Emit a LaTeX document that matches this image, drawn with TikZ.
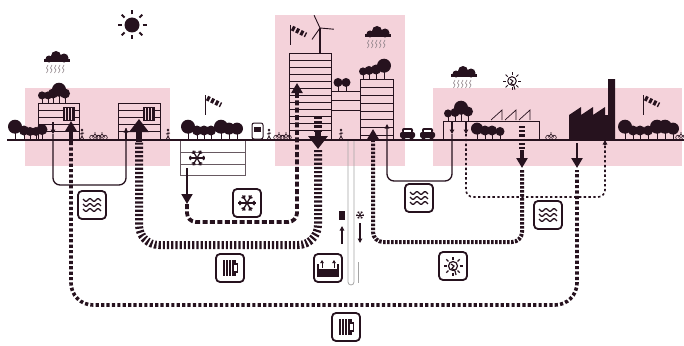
\documentclass[tikz,border=0pt]{standalone}
\usepackage{tikz}
\usetikzlibrary{arrows.meta}

\definecolor{ink}{RGB}{38,18,30}
\definecolor{blush}{RGB}{244,210,218}
\definecolor{probegray}{RGB}{165,165,165}

% tree: x, ground y, canopy radius
\newcommand{\treeat}[3]{%
  \draw[ink,line width=0.9pt] (#1,#2) -- (#1,{#2-1.8*#3});
  \fill[ink] (#1,{#2-1.9*#3}) circle (#3pt);}

% cloud with rain
\newcommand{\raincloud}[2]{%
  \begin{scope}[shift={(#1,#2)}]
    \fill[ink] (-13,2) rectangle (13,5);
    \fill[ink] (-8,2) circle (3.5pt) (-1,-1) circle (5pt) (7,1) circle (4.5pt);
    \foreach \i in {-9,-5,...,9}
      \draw[ink!55,line width=0.6pt] (\i,8) -- ++(-1.5,3) -- ++(1.5,2) -- ++(-1.5,3);
  \end{scope}}

% wind sock on a pole
\newcommand{\windsock}[2]{%
  \draw[ink,line width=0.8pt] (#1,#2) -- (#1,{#2+20});
  \draw[ink,line width=5pt,dash pattern=on 3pt off 1.8pt] ({#1+2},{#2+3}) -- ({#1+16},{#2+10});}

\newcommand{\walker}[2]{%
  \fill[ink] (#1,{#2-10}) circle (1.3pt);
  \draw[ink,line width=0.8pt] (#1,{#2-8.5}) -- (#1,{#2-4}) -- ({#1-2},#2)
    (#1,{#2-4}) -- ({#1+2},#2) ({#1-2},{#2-6}) -- ({#1+2},{#2-7});}

\newcommand{\bike}[2]{%
  \draw[ink,line width=0.6pt] ({#1-3},{#2-2.5}) circle (2.3pt) ({#1+3},{#2-2.5}) circle (2.3pt)
    ({#1-3},{#2-2.5}) -- (#1,{#2-6}) -- ({#1+3},{#2-2.5}) (#1,{#2-6}) -- (#1,{#2-8});}

\newcommand{\car}[2]{%
  \fill[ink,rounded corners=2pt] (#1,{#2-2}) rectangle ({#1+15},{#2-8});
  \fill[ink,rounded corners=2pt] ({#1+2},{#2-7}) rectangle ({#1+13},{#2-12});
  \fill[white] ({#1+4},{#2-8}) rectangle ({#1+11},{#2-10.5});
  \fill[ink] ({#1+3.5},{#2-1.5}) circle (1.8pt) ({#1+11.5},{#2-1.5}) circle (1.8pt);}

% small radiator on a facade: top-left corner
\newcommand{\wallrad}[2]{%
  \fill[ink] (#1,#2) rectangle ({#1+12},{#2+14});
  \foreach \i in {2.5,5.5,8.5}
    \draw[blush,line width=0.7pt] ({#1+\i},{#2+1}) -- ({#1+\i},{#2+13});}

% icon contents, drawn round a node centre
\newcommand{\wavesicon}[1]{%
  \begin{scope}[shift={(#1.center)}]
    \foreach \dy in {-5,0,5}
      \draw[ink,line width=1.3pt] plot[domain=-9:9,samples=25,variable=\t] (\t,{\dy+1.3*sin(\t*45)});
  \end{scope}}

\newcommand{\flake}[3]{% centre, scale, line width
  \begin{scope}[shift={(#1)},scale=#2]
    \foreach \a in {0,60,...,300} {
      \draw[ink,line width=#3] (0,0) -- (\a:8);
      \draw[ink,line width=#3] (\a:5) -- ++(\a+45:2.6) (\a:5) -- ++(\a-45:2.6);}
  \end{scope}}

\newcommand{\radicon}[1]{%
  \begin{scope}[shift={(#1.center)}]
    \foreach \i in {0,...,3} \fill[ink] ({-7+\i*3},-8) rectangle ({-5+\i*3},8);
    \draw[ink,line width=1.2pt] (5,-8) -- (5,-4) -- (7.5,-4) -- (7.5,4) -- (5,4) -- (5,8);
  \end{scope}}

\newcommand{\crackedsun}[3]{% centre, scale, line width
  \begin{scope}[shift={(#1)},scale=#2]
    \draw[ink,line width=#3] (0,0) circle (4.5);
    \foreach \a in {0,45,...,315} \draw[ink,line width=#3] (\a:6.5) -- (\a:9.5);
    \draw[ink,line width=#3] (-2,-2) -- (1,0) -- (-1,2.5) -- (2,5) -- (3,9);
  \end{scope}}

\newcommand{\tankicon}[1]{%
  \begin{scope}[shift={(#1.center)}]
    \draw[ink,line width=1.3pt] (-10,-4) -- (-10,8) -- (10,8) -- (10,-4);
    \fill[ink] (-10,1) rectangle (10,8);
    \draw[ink,line width=1pt,-{Triangle[length=3pt,width=3.5pt]}] (-6,0) -- (-6,-8);
    \draw[ink,line width=1pt,-{Triangle[length=3pt,width=3.5pt]}] (6,0) -- (6,-8);
  \end{scope}}

\begin{document}
\begin{tikzpicture}[x=1pt,y=-1pt,
    pipeA/.style={ink,line width=3.6pt,dash pattern=on 3.2pt off 2.2pt,rounded corners=22pt},
    pipeB/.style={ink,line width=8pt,dash pattern=on 2.2pt off 2pt,rounded corners=20pt},
    pipeC/.style={ink,line width=3.8pt,dash pattern=on 5pt off 2.4pt,rounded corners=9pt},
    pipeD/.style={ink,line width=4pt,dash pattern=on 2.6pt off 1.4pt,rounded corners=10pt},
    waterpipe/.style={ink,line width=1.3pt,rounded corners=7pt},
    waterdash/.style={ink,line width=1.6pt,dash pattern=on 2.4pt off 2.4pt,rounded corners=7pt},
    bigtip/.style={ink,line width=6pt,-{Triangle[length=13pt,width=19pt]}},
    midtip/.style={ink,line width=3.2pt,-{Triangle[length=10pt,width=11pt]}},
    smalltip/.style={ink,line width=1.1pt,-{Triangle[length=4.5pt,width=4.5pt]}},
    iconbox/.style={draw=ink,line width=1.8pt,rounded corners=4pt,minimum size=28pt,fill=white,inner sep=0pt},
    floor/.style={ink,line width=0.4pt},
    wall/.style={ink,line width=1pt}]

  \useasboundingbox (0,0) rectangle (684,345);

  % district zones
  \fill[blush] (25,88) rectangle (170,166);
  \fill[blush] (275,15) rectangle (405,166);
  \fill[blush] (433,88) rectangle (682,166);

  % pipe ends
  \coordinate (hA) at (71,142);
  \coordinate (fA) at (577,170);
  \coordinate (bA) at (300,305);
  \coordinate (hB) at (139,142);
  \coordinate (cB) at (318,150);
  \coordinate (bB) at (230,245);
  \coordinate (sC) at (187,204);
  \coordinate (tC) at (297,98);
  \coordinate (bC) at (240,222);
  \coordinate (rD) at (373,142);
  \coordinate (pD) at (522,170);
  \coordinate (bD) at (450,242);
  \coordinate (pE) at (452,134);
  \coordinate (rE) at (387,124);
  \coordinate (bE) at (420,181);
  \coordinate (pF) at (466,134);
  \coordinate (fF) at (605,144);
  \coordinate (bF) at (540,197);
  \coordinate (hG) at (53,134);
  \coordinate (kG) at (126,128);
  \coordinate (bG) at (90,185);

  % cold storage under the park
  \draw[ink!70,line width=0.6pt] (180,140) rectangle (245,175);
  \draw[ink!70,line width=0.6pt] (180,152) -- (245,152) (180,164) -- (245,164);
  \flake{197,158}{1.05}{1.2pt}

  % geothermal probe
  \draw[probegray,line width=0.8pt,rounded corners=3pt] (348,140) -- (348,285) -- (354,285) -- (354,140);
  \draw[probegray,line width=0.8pt] (358,262) -- (358,283);

  % networks
  \draw[pipeA] (hA) |- (bA) -| (fA);
  \draw[pipeB] (cB) |- (bB) -| (hB);
  \draw[pipeB] (318,117) -- (318,133);
  \draw[pipeC] (sC) |- (bC) -| (tC);
  \draw[pipeD] (pD) |- (bD) -| (rD);
  \draw[pipeB,line width=6pt] (522,126) -- (522,151);
  \draw[waterpipe,-{Triangle[length=4.5pt,width=4.5pt]}] (pE) |- (bE) -| (rE);
  \draw[waterdash] (pF) |- (bF) -| (fF);
  \draw[waterpipe] (hG) |- (bG) -| (kG);

  % houses on the left
  \draw[wall] (38,140) rectangle (79,103);
  \foreach \y in {110,117,...,133} \draw[floor] (38,\y) -- (79,\y);
  \wallrad{63}{107}
  \draw[wall] (118,140) rectangle (160,103);
  \foreach \y in {110,117,...,133} \draw[floor] (118,\y) -- (160,\y);
  \wallrad{143}{107}

  % centre block
  \draw[wall] (289,140) rectangle (331,53);
  \foreach \y in {60,67,...,133} \draw[floor] (289,\y) -- (331,\y);
  \draw[wall] (331,140) rectangle (360,91);
  \draw[floor] (331,100) -- (360,100) (331,110) -- (360,110);
  \draw[wall] (360,140) rectangle (393,79);
  \foreach \y in {87,95,...,135} \draw[floor] (360,\y) -- (393,\y);

  % wind turbine
  \draw[ink,line width=1.2pt] (320,53) -- (320,28);
  \foreach \a in {125,5,245} \draw[ink,line width=0.9pt] (320,28) -- ++(\a:14);

  % solar house and factory
  \draw[wall] (443,140) rectangle (539,121);
  \foreach \k in {0,1,2} \draw[ink,line width=0.7pt] ({491+14*\k},120) -- ({502+14*\k},110) -- ({502+14*\k},120);
  \fill[ink] (569,140) -- (569,115) -- (581,107) -- (581,115) -- (593,107) -- (593,115)
    -- (605,107) -- (605,115) -- (608,115) -- (608,79) -- (615,79) -- (615,140) -- cycle;

  % trees
  \foreach \x/\r in {15/7,24/5,30/4.5,36/4.5,42/5.5} \treeat{\x}{140}{\r};
  \foreach \x/\r in {42/4,48/4,53/5,59/7,65/5} \treeat{\x}{103}{\r};
  \foreach \x/\r in {188/7,197/5,204/5,211/5,221/7,229/6,237/6} \treeat{\x}{140}{\r};
  \foreach \x/\r in {338/4.5,346/4.5} \treeat{\x}{91}{\r};
  \foreach \x/\r in {363/4,369/4.5,376/5,384/7} \treeat{\x}{79}{\r};
  \foreach \x/\r in {448/4,455/4.5,461/7,468/5} \treeat{\x}{121}{\r};
  \foreach \x/\r in {477/6,485/5,492/5,500/4.5} \treeat{\x}{140}{\r};
  \foreach \x/\r in {625/7,633/5,640/5,648/5,657/7,665/7,673/6} \treeat{\x}{140}{\r};

  % sky
  \fill[ink] (132,25) circle (7.5pt);
  \foreach \a in {0,45,...,315} \draw[ink,line width=2pt] (132,25) ++(\a:10.5) -- ++(\a:4);
  \raincloud{57}{57}
  \raincloud{378}{32}
  \raincloud{464}{72}
  \crackedsun{512,81}{0.95}{1pt}
  \windsock{205}{95}
  \windsock{290}{25}
  \windsock{643}{95}

  % street life
  \walker{82}{140} \bike{95}{140} \bike{102}{140} \walker{168}{140}
  \draw[ink,line width=1pt,rounded corners=2pt] (252,139) rectangle (263,123);
  \fill[ink] (254,127) rectangle (261,132);
  \walker{269}{140} \bike{279}{140} \bike{286}{140} \walker{341}{140}
  \car{400}{140} \car{420}{140}
  \bike{551}{140} \bike{681}{140}

  % ground
  \draw[ink,line width=1.3pt] (7,140) -- (684,140);

  % flow arrows
  \draw[midtip] (hA) -- (71,121);
  \draw[midtip,line width=2.4pt] (577,143) -- (577,168);
  \draw[bigtip] (hB) -- (139,119);
  \draw[bigtip] (318,131) -- (318,149);
  \draw[midtip,line width=2pt] (187,168) -- (sC);
  \draw[midtip] (tC) -- (297,83);
  \draw[midtip] (522,150) -- (522,168);
  \draw[midtip] (rD) -- (373,129);
  \draw[smalltip] (452,122) -- (pE);
  \draw[smalltip] (466,122) -- (pF);
  \draw[smalltip] (fF) -- (605,140);
  \draw[smalltip] (53,122) -- (hG);
  \draw[smalltip] (126,140) -- (kG);

  % probe heat and cold
  \fill[ink] (339,211) rectangle (345,220);
  \draw[smalltip,line width=1.4pt] (342,244) -- (342,226);
  \flake{360,215}{0.5}{0.7pt}
  \draw[smalltip,line width=1.4pt] (360,223) -- (360,243);

  % icon boxes
  \node[iconbox] (water1) at (92,205) {};
  \wavesicon{water1}
  \node[iconbox] (cold) at (247,203) {};
  \flake{cold.center}{1.1}{1.3pt}
  \node[iconbox] (rad1) at (230,268) {};
  \radicon{rad1}
  \node[iconbox] (tank) at (328,268) {};
  \tankicon{tank}
  \node[iconbox] (rad2) at (346,327) {};
  \radicon{rad2}
  \node[iconbox] (water2) at (419,198) {};
  \wavesicon{water2}
  \node[iconbox] (solar) at (453,266) {};
  \crackedsun{solar.center}{1}{1.2pt}
  \node[iconbox] (water3) at (548,215) {};
  \wavesicon{water3}
\end{tikzpicture}
\end{document}
